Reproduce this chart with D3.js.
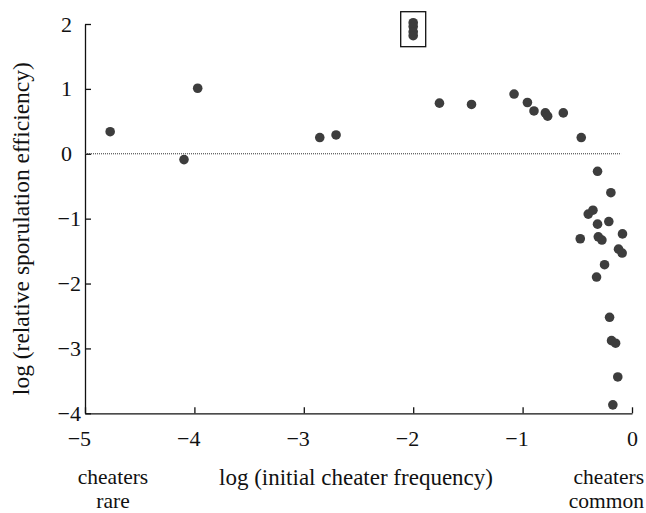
<!DOCTYPE html>
<html><head><meta charset="utf-8">
<script src="https://cdn.jsdelivr.net/npm/d3@7"></script>
<style>
body{margin:0;background:#fff;}
svg text{font-family:"Liberation Serif","Times New Roman",serif;fill:#111;}
</style></head>
<body>
<svg id="c" width="646" height="513"></svg>
<script>
// log initial cheater frequency
const freqX = [-4.77,-4.095,-3.97,-2.854,-2.705,-1.76,-1.467,
  -2.0,-2.0,-2.0,-2.0,
  -1.078,-0.956,-0.896,-0.792,-0.771,-0.628,-0.464,-0.315,
  -0.193,-0.40,-0.357,-0.315,-0.212,-0.473,-0.308,-0.275,-0.087,-0.123,-0.09,-0.251,-0.324,
  -0.205,-0.187,-0.15,-0.13,-0.175];
// log relative sporulation efficiency
const effY = [0.34,-0.09,1.01,0.25,0.29,0.78,0.76,
  2.02,1.96,1.88,1.82,
  0.92,0.79,0.66,0.63,0.58,0.63,0.25,-0.27,
  -0.60,-0.93,-0.87,-1.085,-1.045,-1.31,-1.28,-1.33,-1.235,-1.47,-1.53,-1.71,-1.90,
  -2.52,-2.88,-2.92,-3.44,-3.87];
const xTicks = [-5,-4,-3,-2,-1,0];
const yTicks = [-4,-3,-2,-1,0,1,2];
const boxedIdx = [7,8,9,10];

const FONT = "Liberation Serif";
const svg = d3.select("#c");
const x = d3.scaleLinear().domain([-5,0]).range([85,632]);
const y = d3.scaleLinear().domain([-4,2]).range([413.3,24]);
const fmt = d => d < 0 ? "\u2212" + Math.abs(d) : String(d);

// axes
const xa = svg.append("g").attr("transform",`translate(0,${y(-4)})`)
  .call(d3.axisBottom(x).tickValues(xTicks).tickSizeInner(-6).tickSizeOuter(0).tickPadding(17).tickFormat(fmt));
const ya = svg.append("g").attr("transform",`translate(${x(-5)},0)`)
  .call(d3.axisLeft(y).tickValues(yTicks).tickSizeInner(-6).tickSizeOuter(0).tickPadding(13).tickFormat(fmt));
[xa,ya].forEach(g=>{
  g.attr("font-family",FONT);
  g.selectAll("path,line").attr("stroke","#111").attr("stroke-width",1.3);
  g.selectAll("text").attr("font-size",22).attr("font-family",FONT).attr("fill","#111");
});
xa.selectAll(".tick text").attr("dx",d=>d<0?"-0.28em":0);
ya.selectAll(".tick text").attr("x",d=>d<0?-4:-13);

// zero dotted line
svg.append("line").attr("x1",x(-5)).attr("x2",x(-0.1)).attr("y1",y(0)).attr("y2",y(0))
  .attr("stroke","#333").attr("stroke-width",1).attr("stroke-dasharray","1,1");

// box around points at top
const bx = boxedIdx.map(i=>x(freqX[i])), by = boxedIdx.map(i=>y(effY[i]));
svg.append("rect").attr("x",d3.min(bx)-12.5).attr("y",d3.min(by)-11)
  .attr("width",d3.max(bx)-d3.min(bx)+25).attr("height",d3.max(by)-d3.min(by)+22)
  .attr("fill","none").attr("stroke","#111").attr("stroke-width",1.3);

// points
svg.append("g").selectAll("circle").data(freqX).join("circle")
  .attr("cx",(d)=>x(d)).attr("cy",(d,i)=>y(effY[i])).attr("r",4.8).attr("fill","#3d3d3d");

// titles
svg.append("text").attr("transform",`translate(28.5,${(y(2)+y(-4))/2 + 10}) rotate(-90)`)
  .attr("text-anchor","middle").attr("font-size",23.5).attr("font-family",FONT)
  .text("log (relative sporulation efficiency)");
svg.append("text").attr("x",356).attr("y",485).attr("text-anchor","middle").attr("font-size",23)
  .attr("font-family",FONT).text("log (initial cheater frequency)");
const lbl=(cx,anchor,lines)=>{const t=svg.append("text").attr("text-anchor",anchor).attr("font-size",21.5).attr("font-family",FONT);
  lines.forEach((l,i)=>t.append("tspan").attr("x",cx).attr("y",484.3+i*23.9).text(l));};
lbl(113,"middle",["cheaters","rare"]);
lbl(644,"end",["cheaters","common"]);
</script>
</body></html>
